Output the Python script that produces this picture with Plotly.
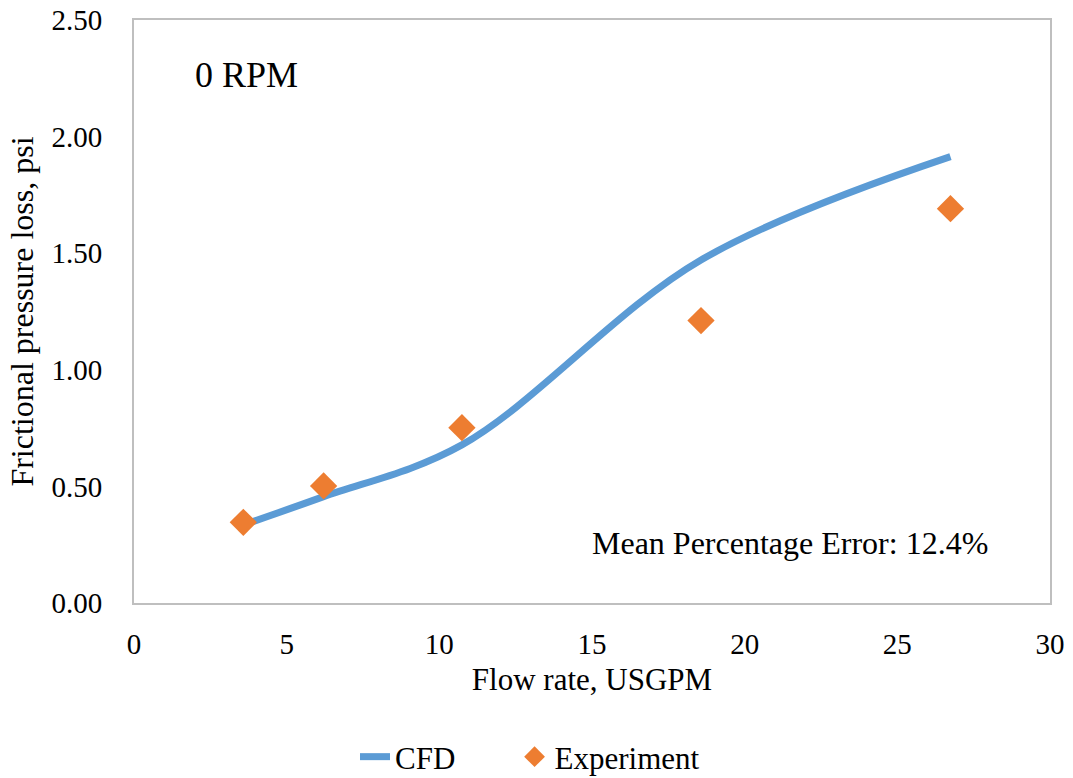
import plotly.graph_objects as go

# Data
exp_x = [3.58, 6.21, 10.74, 18.57, 26.74]
exp_y = [0.346, 0.502, 0.752, 1.211, 1.691]
cfd_x = [3.58, 6.21, 10.74, 18.57, 26.74]
cfd_y = [0.335, 0.456, 0.678, 1.471, 1.914]

x_ticks = [0, 5, 10, 15, 20, 25, 30]
y_ticks = [0.0, 0.5, 1.0, 1.5, 2.0, 2.5]

FONT = "Times New Roman, Liberation Serif, Tinos, DejaVu Serif, serif"
BLUE = "#5B9BD5"
ORANGE = "#ED7D31"

L, R, T, B = 134, 23, 20, 175
W, H = 1073, 778
PW, PH = W - L - R, H - T - B

fig = go.Figure()
fig.add_trace(go.Scatter(
    x=cfd_x, y=cfd_y, mode="lines", name="CFD" + "\u00a0" * 7,
    line=dict(color=BLUE, width=7, shape="spline", smoothing=1.0),
))
fig.add_trace(go.Scatter(
    x=exp_x, y=exp_y, mode="markers", name="Experiment",
    marker=dict(symbol="diamond", color=ORANGE, size=21, line=dict(width=0)),
))

fig.update_layout(
    width=W, height=H,
    margin=dict(l=L, r=R, t=T, b=B, autoexpand=False),
    paper_bgcolor="white", plot_bgcolor="white",
    font=dict(family=FONT, size=29, color="black"),
    showlegend=True,
    legend=dict(orientation="h", xref="container", yref="container",
                x=530 / W, xanchor="center", y=1 - 757 / H, yanchor="middle",
                font=dict(size=31), tracegroupgap=0),
    xaxis=dict(range=[0, 30], tickvals=x_ticks, ticktext=[str(v) for v in x_ticks],
               showgrid=False, zeroline=False, showline=True, mirror=True,
               linecolor="#BFBFBF", linewidth=2, automargin=False,
               ticks="outside", ticklen=14, tickcolor="rgba(0,0,0,0)",
               tickfont=dict(size=29),
               title=dict(text="Flow rate, USGPM", font=dict(size=31), standoff=10)),
    yaxis=dict(range=[0, 2.5], tickvals=y_ticks, ticktext=[f"{v:.2f}" for v in y_ticks],
               showgrid=False, zeroline=False, showline=True, mirror=True,
               linecolor="#BFBFBF", linewidth=2, automargin=False,
               ticks="outside", ticklen=24, tickcolor="rgba(0,0,0,0)",
               tickfont=dict(size=29),
               title=dict(text="Frictional pressure loss, psi", font=dict(size=32), standoff=8)),
    annotations=[
        dict(text="0 RPM", xref="paper", yref="paper",
             x=(193 - L) / PW, y=1 - (75 - T) / PH, showarrow=False,
             font=dict(size=36), xanchor="left", yanchor="middle"),
        dict(text="Mean Percentage Error: 12.4%", xref="paper", yref="paper",
             x=(990 - L) / PW, y=1 - (543 - T) / PH, showarrow=False,
             font=dict(size=32), xanchor="right", yanchor="middle"),
    ],
)

fig.write_html("out.html")
